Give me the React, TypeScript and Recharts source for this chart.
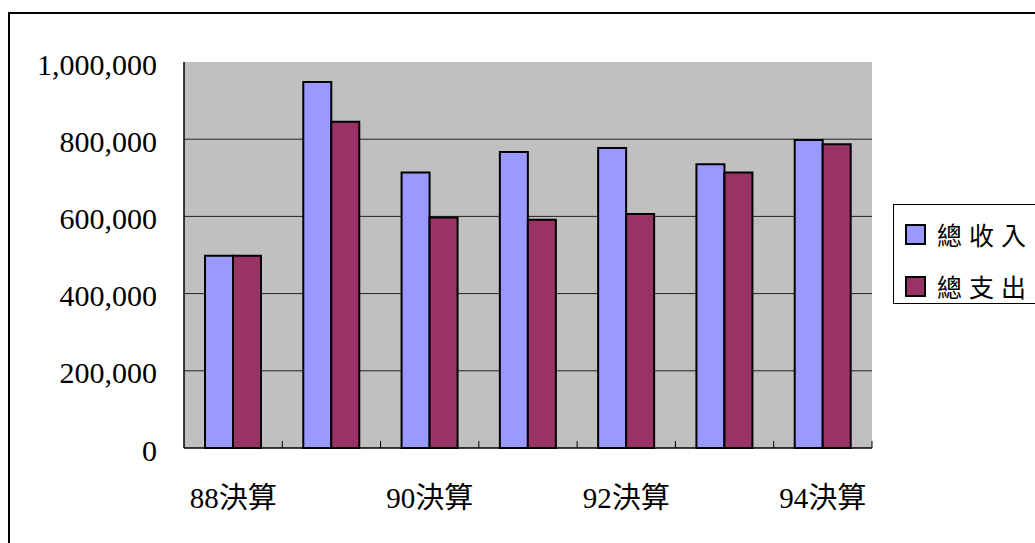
import React from 'react';
import {
  BarChart,
  Bar,
  XAxis,
  YAxis,
  CartesianGrid,
} from 'recharts';

// Data
const categories = ['88決算', '89決算', '90決算', '91決算', '92決算', '93決算', '94決算'];
const income = [498000, 948000, 714000, 767000, 777000, 735000, 798000];
const expense = [498000, 845000, 597000, 591000, 606000, 714000, 787000];
const yTicks = [0, 200000, 400000, 600000, 800000, 1000000];

const SERIES = [
  { key: 'income', name: '總收入', color: '#9999FF' },
  { key: 'expense', name: '總支出', color: '#993366' },
];

const FONT = "'Liberation Serif', 'Noto Sans CJK TC', serif";

// Layout
const W = 1035;
const H = 543;
const PLOT_LEFT = 184;
const PLOT_TOP = 62;
const PLOT_RIGHT = 872;
const PLOT_BOTTOM = 448;
const STEP = (PLOT_RIGHT - PLOT_LEFT) / categories.length;

const data = categories.map((name, i) => ({
  name,
  income: income[i],
  expense: expense[i],
}));

function formatNumber(v: number): string {
  return v.toLocaleString('en-US');
}

/**
 * X tick: tick mark at the category boundary (pointing up), label on every other category
 */
function XTick(props: any) {
  const { x, y, payload, index } = props;
  const bx = x + STEP / 2;
  return (
    <g>
      <line x1={bx} y1={y} x2={bx} y2={y - 7} stroke="#000" strokeWidth={1} />
      {index % 2 === 0 && (
        <text
          x={x}
          y={y + 60}
          textAnchor="middle"
          fontFamily={FONT}
          fontSize={29}
          fill="#000"
        >
          {payload.value}
        </text>
      )}
    </g>
  );
}

function LegendBox() {
  return (
    <div
      style={{
        position: 'absolute',
        left: 893,
        top: 204,
        width: 160,
        height: 100,
        border: '1px solid #000',
        background: '#fff',
        boxSizing: 'border-box',
      }}
    >
      {SERIES.map((s, i) => (
        <div
          key={s.key}
          style={{
            position: 'absolute',
            left: 11,
            top: 16 + i * 52,
            display: 'flex',
            alignItems: 'center',
            height: 26,
          }}
        >
          <span
            style={{
              width: 17,
              height: 17,
              background: s.color,
              border: '2px solid #000',
              display: 'inline-block',
            }}
          />
          <span
            style={{
              marginLeft: 11,
              fontFamily: FONT,
              fontSize: 25,
              letterSpacing: 7,
              color: '#000',
              whiteSpace: 'nowrap',
            }}
          >
            {s.name}
          </span>
        </div>
      ))}
    </div>
  );
}

export default function App() {
  return (
    <div
      style={{
        position: 'fixed',
        left: 0,
        top: 0,
        width: W,
        height: H,
        background: '#fff',
        overflow: 'hidden',
      }}
    >
      {/* outer chart frame, runs off the right and bottom */}
      <div
        style={{
          position: 'absolute',
          left: 8,
          top: 12,
          width: W + 20,
          height: H + 20,
          border: '2px solid #000',
          boxSizing: 'border-box',
        }}
      />
      <div style={{ position: 'absolute', left: 0, top: 0 }}>
        <BarChart
          width={W}
          height={H}
          data={data}
          margin={{ top: PLOT_TOP, right: W - PLOT_RIGHT, bottom: H - PLOT_BOTTOM - 60, left: 0 }}
          barCategoryGap={21}
          barGap={0}
        >
          <CartesianGrid
            vertical={false}
            horizontalValues={[200000, 400000, 600000, 800000]}
            stroke="#222"
            strokeWidth={1}
            fill="#C0C0C0"
            fillOpacity={1}
          />
          <XAxis
            dataKey="name"
            interval={0}
            height={60}
            tickSize={0}
            tickMargin={0}
            tickLine={false}
            axisLine={{ stroke: '#000', strokeWidth: 1.5 }}
            tick={<XTick />}
          />
          <XAxis
            xAxisId="top"
            orientation="top"
            dataKey="name"
            height={0}
            tick={false}
            tickLine={false}
            axisLine={{ stroke: '#8c8c8c', strokeWidth: 1.5 }}
          />
          <YAxis
            domain={[0, 1000000]}
            ticks={yTicks}
            width={PLOT_LEFT}
            tickSize={0}
            tickMargin={27}
            tickLine={false}
            axisLine={{ stroke: '#000', strokeWidth: 1.5 }}
            tickFormatter={formatNumber}
            tick={{ fontFamily: FONT, fontSize: 30, fill: '#000', dy: 2 }}
          />
          <YAxis
            yAxisId="right"
            orientation="right"
            domain={[0, 1000000]}
            width={0}
            tick={false}
            tickLine={false}
            axisLine={{ stroke: '#8c8c8c', strokeWidth: 1.5 }}
          />
          {SERIES.map((s) => (
            <Bar
              key={s.key}
              dataKey={s.key}
              name={s.name}
              fill={s.color}
              stroke="#000"
              strokeWidth={2}
              isAnimationActive={false}
            />
          ))}
        </BarChart>
      </div>
      <LegendBox />
    </div>
  );
}
